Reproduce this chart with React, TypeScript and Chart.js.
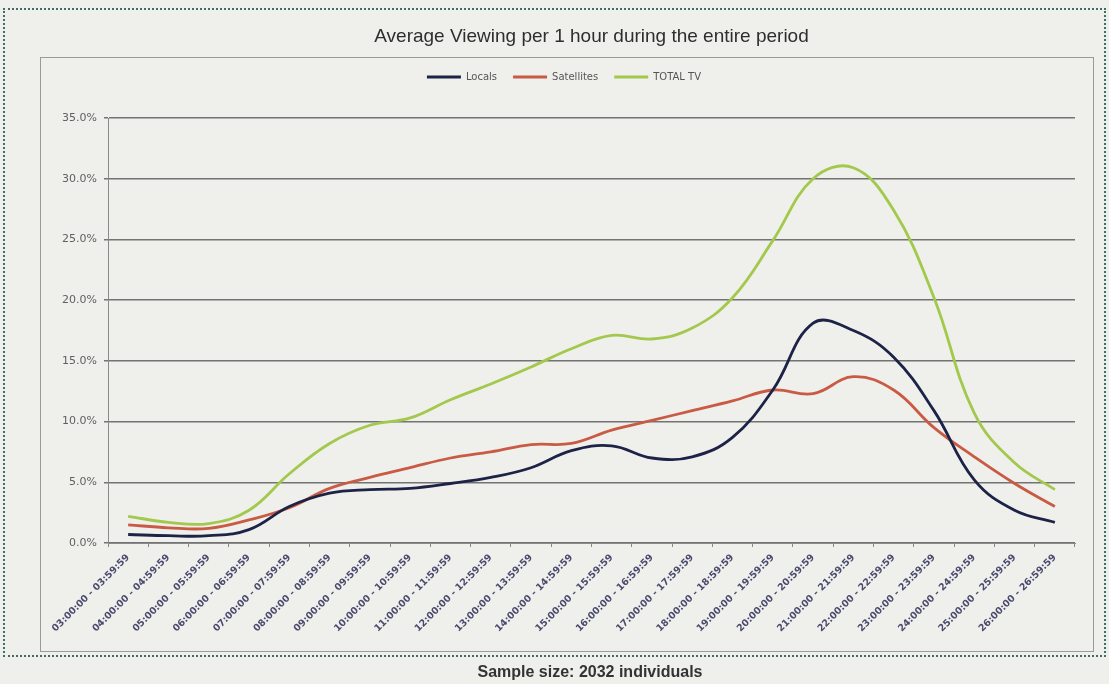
import React, { useEffect, useRef } from 'react';
import { Chart, registerables } from 'chart.js';

Chart.register(...registerables);

const timeSlots: string[] = [
  '03:00:00 - 03:59:59', '04:00:00 - 04:59:59', '05:00:00 - 05:59:59', '06:00:00 - 06:59:59',
  '07:00:00 - 07:59:59', '08:00:00 - 08:59:59', '09:00:00 - 09:59:59', '10:00:00 - 10:59:59',
  '11:00:00 - 11:59:59', '12:00:00 - 12:59:59', '13:00:00 - 13:59:59', '14:00:00 - 14:59:59',
  '15:00:00 - 15:59:59', '16:00:00 - 16:59:59', '17:00:00 - 17:59:59', '18:00:00 - 18:59:59',
  '19:00:00 - 19:59:59', '20:00:00 - 20:59:59', '21:00:00 - 21:59:59', '22:00:00 - 22:59:59',
  '23:00:00 - 23:59:59', '24:00:00 - 24:59:59', '25:00:00 - 25:59:59', '26:00:00 - 26:59:59',
];

const locals: number[] = [0.7, 0.6, 0.6, 1.1, 3.0, 4.1, 4.4, 4.5, 4.9, 5.4, 6.2, 7.6, 8.0, 7.0, 7.1, 8.7, 12.6, 18.1, 17.5, 15.3, 10.9, 5.2, 2.7, 1.7];
const satellites: number[] = [1.5, 1.25, 1.2, 1.9, 2.9, 4.5, 5.4, 6.2, 7.0, 7.5, 8.1, 8.2, 9.3, 10.1, 10.9, 11.7, 12.6, 12.3, 13.7, 12.6, 9.5, 7.1, 4.9, 3.0];
const totalTv: number[] = [2.2, 1.7, 1.6, 2.7, 5.7, 8.2, 9.7, 10.3, 11.8, 13.1, 14.5, 16.0, 17.1, 16.8, 17.7, 20.2, 24.9, 30.0, 30.9, 27.4, 20.2, 10.7, 6.6, 4.4];

const seriesNames: string[] = ['Locals', 'Satellites', 'TOTAL TV'];
const yTickMax = 35;
const yTickStep = 5;

const chartTitle = 'Average Viewing per 1 hour during the entire period';
const footnote = 'Sample size: 2032 individuals';

export default function App() {
  const ref = useRef<HTMLCanvasElement>(null);

  useEffect(() => {
    if (!ref.current) return;
    const mk = (label: string, data: number[], color: string) => ({
      label,
      data,
      borderColor: color,
      backgroundColor: color,
      borderWidth: 2.8,
      pointRadius: 0,
      pointHoverRadius: 0,
      tension: 0.4,
      fill: false,
    });
    const chart = new Chart(ref.current, {
      type: 'line',
      data: {
        labels: timeSlots,
        datasets: [
          mk(seriesNames[0], locals, '#1d2347'),
          mk(seriesNames[1], satellites, '#c95b45'),
          mk(seriesNames[2], totalTv, '#a2c94c'),
        ],
      },
      options: {
        responsive: false,
        animation: false,
        devicePixelRatio: 1,
        layout: { padding: { top: 8, left: 53, right: 34, bottom: 41 } },
        plugins: {
          tooltip: { enabled: false },
          title: {
            display: true,
            text: chartTitle,
            fullSize: false,
            color: '#2e2e2e',
            font: { family: "'Liberation Sans', Arial, sans-serif", size: 19, weight: 'normal' },
            padding: { top: 17.6, bottom: 7.6 },
          },
          legend: {
            display: true,
            position: 'top',
            labels: {
              usePointStyle: true,
              pointStyle: 'line',
              pointStyleWidth: 34,
              color: '#555555',
              font: { family: "'DejaVu Sans', sans-serif", size: 10 },
              padding: 16,
            },
          },
          subtitle: {
            display: true,
            text: '',
            position: 'top',
            weight: 900,
            font: { size: 1 },
            padding: { top: 0, bottom: 24.8 },
          } as any,
        },
        scales: {
          x: {
            offset: true,
            grid: { display: true, drawOnChartArea: false, drawTicks: true, tickLength: 4, color: '#888888', offset: true },
            border: { display: true, color: '#8a8a8a', width: 1 },
            ticks: {
              autoSkip: false,
              maxRotation: 45,
              minRotation: 45,
              padding: 5,
              color: '#4a4a6e',
              font: { family: "'DejaVu Sans', sans-serif", size: 9.5, weight: 'bold' },
            },
            afterFit: (s: any) => { s.height = 100; },
          },
          y: {
            min: 0,
            max: yTickMax,
            ticks: {
              stepSize: yTickStep,
              padding: 7,
              color: '#606060',
              font: { family: "'DejaVu Sans', sans-serif", size: 11 },
              callback: (v: any) => Number(v).toFixed(1) + '%',
            },
            grid: { color: '#737373', lineWidth: 1.5, drawTicks: true, tickLength: 4 },
            border: { display: true, color: '#8a8a8a', width: 1 },
            afterFit: (s: any) => { s.width = 55; },
          },
        },
      },
    });
    return () => chart.destroy();
  }, []);

  return (
    <div style={{ position: 'absolute', left: 0, top: 0, width: 1109, height: 684, background: '#efefec', overflow: 'hidden' }}>
      <div style={{ position: 'absolute', left: 3, top: 8, width: 1099, height: 645, border: '2px dotted #3d6e68' }} />
      <div style={{ position: 'absolute', left: 40, top: 57, width: 1052, height: 593, border: '1px solid #9a9a9a' }} />
      <canvas ref={ref} width={1109} height={684} style={{ position: 'absolute', left: 0, top: 0 }} />
      <div style={{ position: 'absolute', left: 0, top: 663, width: 1180, textAlign: 'center', fontFamily: "'Liberation Sans', Arial, sans-serif", fontWeight: 'bold', fontSize: 16, lineHeight: '18px', color: '#333333' }}>
        {footnote}
      </div>
    </div>
  );
}
